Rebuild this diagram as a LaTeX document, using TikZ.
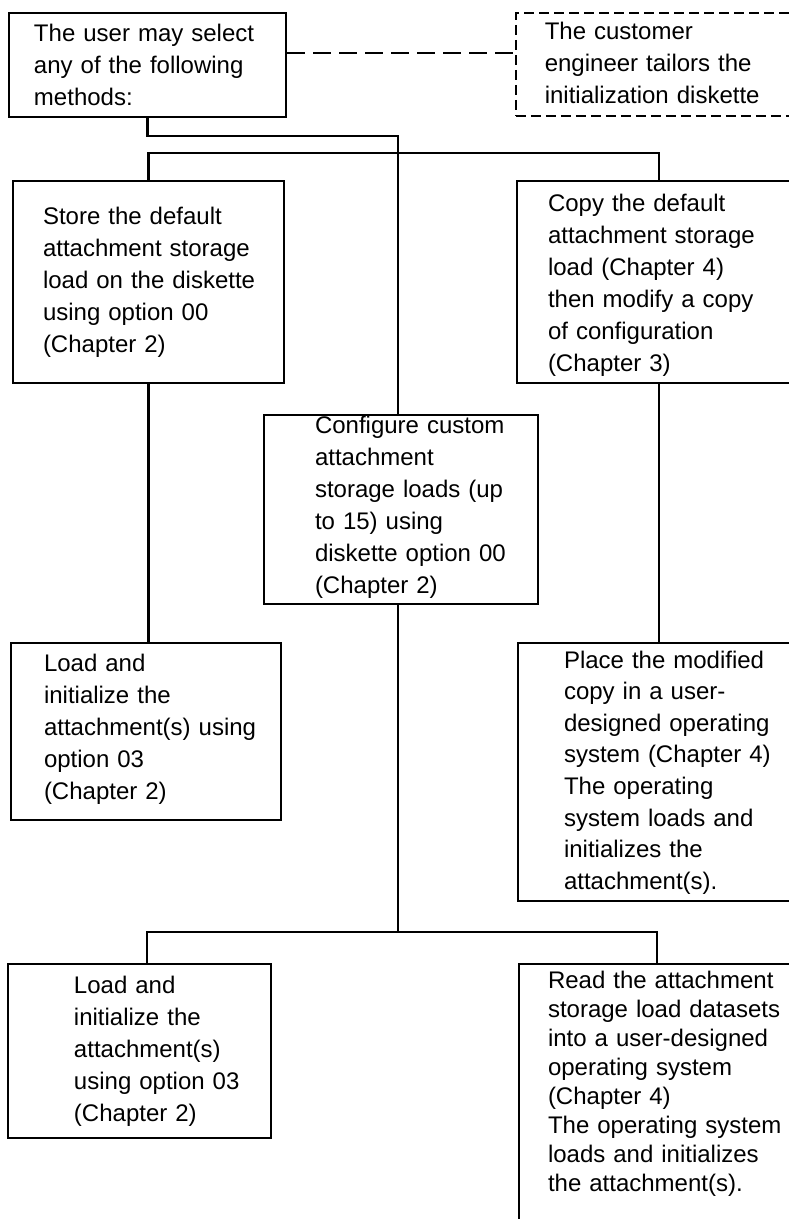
\documentclass[tikz,border=0pt]{standalone}
\usepackage{fontspec}
\setmainfont{Liberation Sans}
\tikzstyle{BOX}+=[draw, line width=2pt, anchor=north west, inner sep=0pt, align=left, font=\fontsize{24}{32}\selectfont]
\tikzstyle{DBOX}+=[BOX, line width=1.6pt, dash pattern=on 10pt off 5pt]
\tikzstyle{LINK}+=[line width=2.6pt]
\tikzset{PAD/.style={execute at begin node={\leftskip=#1}}}

\begin{document}
\begin{tikzpicture}[x=1pt,y=-1pt]
        \useasboundingbox (0,0) rectangle (788,1219);

        % top row
        \node[BOX, PAD=25pt, text width=277pt, text height=28pt, text depth=76pt] (user) at (8,12)
            {The user may select\\any of the following\\methods:};
        \node[DBOX, PAD=29pt, text width=280pt, text height=27pt, text depth=76pt] (ce) at (515,12)
            {The customer\\engineer tailors the\\initialization diskette};
        \draw[LINK, line width=2.2pt, dash pattern=on 18pt off 8pt]
            ([yshift=12pt]user.east) -- ([yshift=12pt]user.east -| ce.west);

        % methods
        \node[BOX, PAD=30pt, text width=271pt, text height=43pt, text depth=159pt] (store) at (12,180)
            {Store the default\\attachment storage\\load on the diskette\\using option 00\\(Chapter 2)};
        \node[BOX, PAD=31pt, text width=284pt, text height=30pt, text depth=172pt] (copy) at (516,180)
            {Copy the default\\attachment storage\\load (Chapter 4)\\then modify a copy\\of configuration\\(Chapter 3)};
        \node[BOX, PAD=51pt, text width=274pt, text height=18pt, text depth=171pt] (custom) at (263,414)
            {Configure custom\\attachment\\storage loads (up\\to 15) using\\diskette option 00\\(Chapter 2)};

        % second row
        \node[BOX, PAD=33pt, text width=270pt, text height=28pt, text depth=149pt] (loadA) at (10,642)
            {Load and\\initialize the\\attachment(s) using\\option 03\\(Chapter 2)};
        \node[BOX, PAD=46pt, text width=282pt, text height=25pt, text depth=233pt, font=\fontsize{24}{31.6}\selectfont] (place) at (517,642)
            {Place the modified\\copy in a user-\\designed operating\\system (Chapter 4)\\The operating\\system loads and\\initializes the\\attachment(s).};

        % bottom row
        \node[BOX, PAD=66pt, text width=263pt, text height=29pt, text depth=145pt] (loadB) at (7,963)
            {Load and\\initialize the\\attachment(s)\\using option 03\\(Chapter 2)};
        \node[BOX, PAD=29pt, text width=278pt, text height=24pt, text depth=243pt, font=\fontsize{24}{29}\selectfont] (read) at (518,963)
            {Read the attachment\\storage load datasets\\into a user-designed\\operating system\\(Chapter 4)\\The operating system\\loads and initializes\\the attachment(s).};

        % connectors
        \draw[LINK] (user.south) -- ++(0,18) -| ([xshift=-3pt]custom.north);
        \draw[LINK] (store.north) -- ++(0,-27) -| (copy.north);
        \draw[LINK] (store.south) -- (store.south |- loadA.north);
        \draw[LINK] (copy.south) -- (copy.south |- place.north);
        \coordinate (forkL) at (147,932);
        \coordinate (forkR) at (657,932);
        \draw[LINK] ([xshift=-3pt]custom.south) -- ([xshift=-3pt]custom.south |- forkL);
        \draw[LINK] (forkL |- loadB.north) -- (forkL) -- (forkR) -- (forkR |- read.north);

    \end{tikzpicture}
\end{document}
